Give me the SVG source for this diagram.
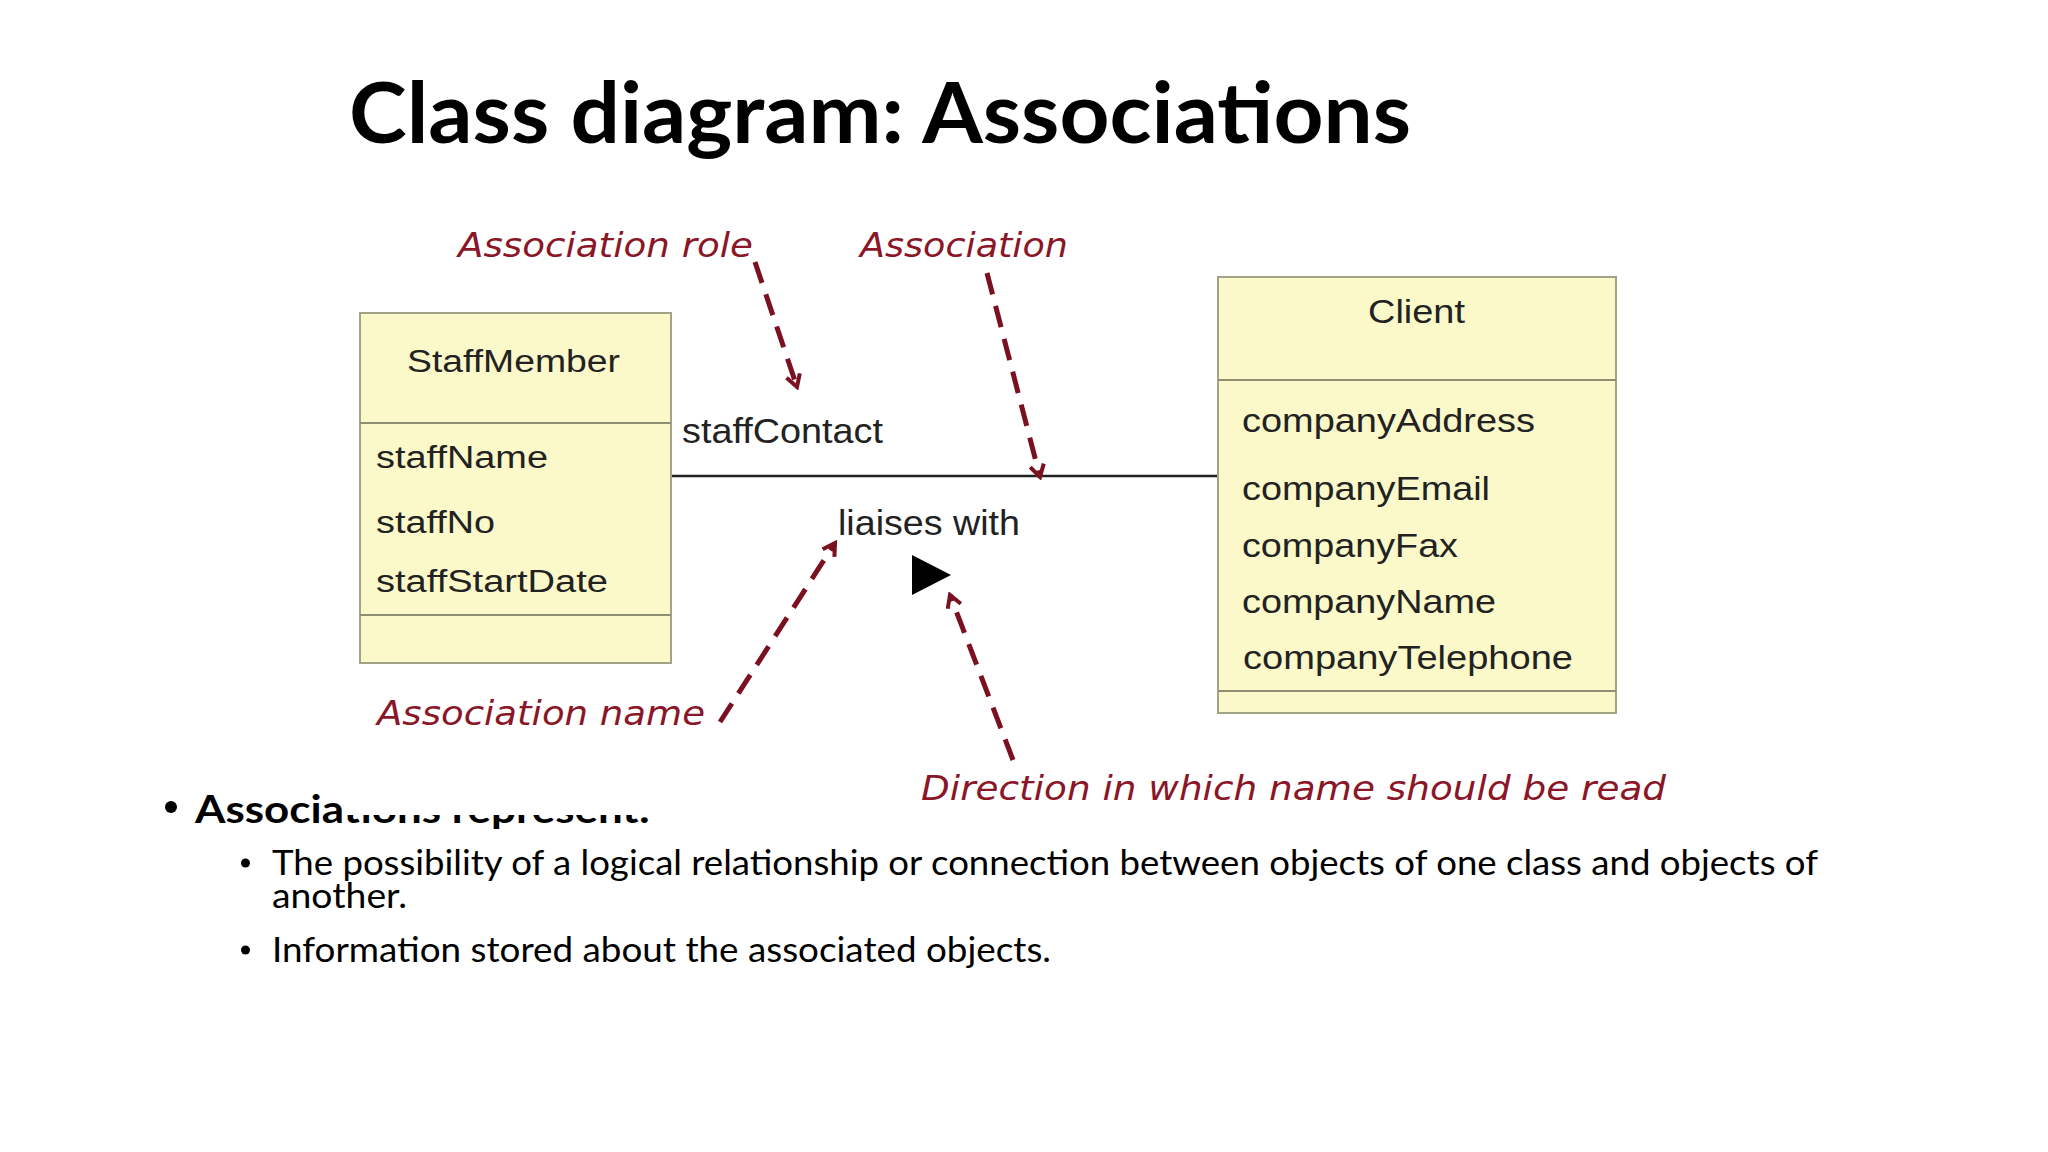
<svg xmlns="http://www.w3.org/2000/svg" width="2048" height="1152" viewBox="0 0 2048 1152">
  <defs>
    <style>
      .title { font-family: Lato, "Open Sans", "Liberation Sans", sans-serif; font-weight: bold; font-size: 84px; fill: #000; }
      .bold { font-family: Lato, "Open Sans", "Liberation Sans", sans-serif; font-weight: bold; font-size: 39px; fill: #000; }
      .body { font-family: Lato, "Open Sans", "Liberation Sans", sans-serif; font-size: 34px; fill: #000; }
      .cls { fill: #fbf9c9; stroke: #a3a386; stroke-width: 2; }
      .div { stroke: #8e8e70; stroke-width: 2; }
      .t31 { font-family: "Liberation Sans", Arial, sans-serif; font-size: 31px; fill: #222; }
      .t33 { font-family: "Liberation Sans", Arial, sans-serif; font-size: 33px; fill: #222; }
      .t35 { font-family: "Liberation Sans", Arial, sans-serif; font-size: 35px; fill: #222; }
      .note { font-family: "DejaVu Sans", Verdana, sans-serif; font-style: italic; font-size: 33px; fill: #8a1628; }
      .dash { fill: none; stroke: #7a1020; stroke-width: 5; stroke-dasharray: 22 12; marker-end: url(#chev); }
      .assoc { fill: none; stroke: #222; stroke-width: 2.5; }
    </style>
    <marker id="chev" markerUnits="userSpaceOnUse" markerWidth="20" markerHeight="20" viewBox="0 0 20 20" refX="17" refY="10" orient="auto">
      <path d="M5,3 L17,10 L5,17" fill="none" stroke="#7a1020" stroke-width="4"/>
    </marker>
    <clipPath id="imgcut">
      <rect x="0" y="0" width="344" height="1152"/>
      <rect x="344" y="815" width="1704" height="337"/>
    </clipPath>
  </defs>

  <rect x="0" y="0" width="2048" height="1152" fill="#ffffff"/>

  <g id="title">
    <text class="title" x="349" y="143" textLength="1062" lengthAdjust="spacingAndGlyphs">Class diagram: Associations</text>
  </g>

  <g id="bullets">
    <circle cx="171" cy="807" r="6" fill="#000"/>
    <text class="bold" x="195" y="823" textLength="455" lengthAdjust="spacingAndGlyphs" clip-path="url(#imgcut)">Associations represent:</text>
    <circle cx="245.5" cy="863" r="4.5" fill="#000"/>
    <text class="body" x="272" y="875" textLength="1546" lengthAdjust="spacingAndGlyphs">The possibility of a logical relationship or connection between objects of one class and objects of</text>
    <text class="body" x="272" y="908" textLength="135" lengthAdjust="spacingAndGlyphs">another.</text>
    <circle cx="245.5" cy="950" r="4.5" fill="#000"/>
    <text class="body" x="272" y="962" textLength="779" lengthAdjust="spacingAndGlyphs">Information stored about the associated objects.</text>
  </g>

  <g id="connectors">
    <line id="association" class="assoc" x1="671" y1="476" x2="1218" y2="476"/>
    <polygon id="read-direction" points="912,555 951,575 912,595" fill="#000"/>
    <path class="dash" d="M755,262 L797,387"/>
    <path class="dash" d="M987,273 L1040,477"/>
    <path class="dash" d="M720,722 L835,543"/>
    <path class="dash" d="M1013,760 L950,595"/>
  </g>

  <g id="StaffMember">
    <rect class="cls" x="360" y="313" width="311" height="350"/>
    <line class="div" x1="360" y1="423" x2="671" y2="423"/>
    <line class="div" x1="360" y1="615" x2="671" y2="615"/>
    <text class="t31" x="407" y="372" textLength="213" lengthAdjust="spacingAndGlyphs">StaffMember</text>
    <text class="t31" x="376" y="468" textLength="172" lengthAdjust="spacingAndGlyphs">staffName</text>
    <text class="t31" x="376" y="533" textLength="119" lengthAdjust="spacingAndGlyphs">staffNo</text>
    <text class="t31" x="376" y="592" textLength="232" lengthAdjust="spacingAndGlyphs">staffStartDate</text>
  </g>

  <g id="Client">
    <rect class="cls" x="1218" y="277" width="398" height="436"/>
    <line class="div" x1="1218" y1="380" x2="1616" y2="380"/>
    <line class="div" x1="1218" y1="691" x2="1616" y2="691"/>
    <text class="t33" x="1368" y="323" textLength="97" lengthAdjust="spacingAndGlyphs">Client</text>
    <text class="t33" x="1242" y="432" textLength="293" lengthAdjust="spacingAndGlyphs">companyAddress</text>
    <text class="t33" x="1242" y="500" textLength="248" lengthAdjust="spacingAndGlyphs">companyEmail</text>
    <text class="t33" x="1242" y="557" textLength="216" lengthAdjust="spacingAndGlyphs">companyFax</text>
    <text class="t33" x="1242" y="613" textLength="254" lengthAdjust="spacingAndGlyphs">companyName</text>
    <text class="t33" x="1243" y="669" textLength="330" lengthAdjust="spacingAndGlyphs">companyTelephone</text>
  </g>

  <g id="assoc-labels">
    <text class="t35" x="682" y="443" textLength="201" lengthAdjust="spacingAndGlyphs">staffContact</text>
    <text class="t35" x="838" y="535" textLength="182" lengthAdjust="spacingAndGlyphs">liaises with</text>
  </g>

  <g id="annotations">
    <text class="note" x="458" y="257" textLength="295" lengthAdjust="spacingAndGlyphs">Association role</text>
    <text class="note" x="860" y="257" textLength="208" lengthAdjust="spacingAndGlyphs">Association</text>
    <text class="note" x="377" y="725" textLength="328" lengthAdjust="spacingAndGlyphs">Association name</text>
    <text class="note" x="921" y="800" textLength="745" lengthAdjust="spacingAndGlyphs">Direction in which name should be read</text>
  </g>
</svg>
